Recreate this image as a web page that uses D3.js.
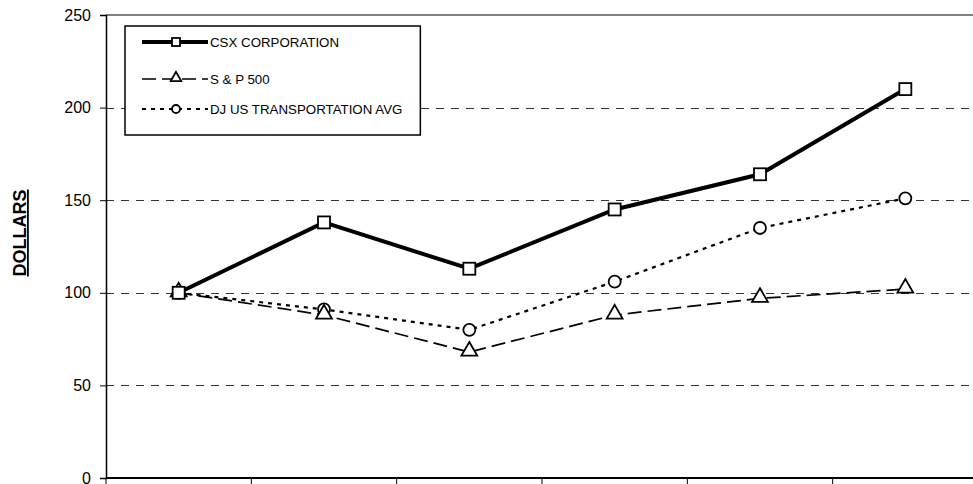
<!DOCTYPE html>
<html>
<head>
<meta charset="utf-8">
<script src="https://cdn.jsdelivr.net/npm/d3@7"></script>
<style>
  body { margin: 0; background: #fff; }
  svg { display: block; font-family: Arial, "Liberation Sans", sans-serif; }
</style>
</head>
<body>
<svg id="chart" width="973" height="484"></svg>
<script>
// data
var YEARS = ["1", "2", "3", "4", "5", "6"];
var CSX = [100, 138, 113, 145, 164, 210];
var SP500 = [100, 88, 68, 88, 97, 102];
var DJTRANS = [100, 91, 80, 106, 135, 151];
var YTICKS = [0, 50, 100, 150, 200, 250];

var SERIES = [
  {name: "CSX CORPORATION", values: CSX, marker: "square", width: 4, dash: null},
  {name: "S & P 500", values: SP500, marker: "triangle", width: 1.7, dash: "14,6"},
  {name: "DJ US TRANSPORTATION AVG", values: DJTRANS, marker: "circle", width: 2.2, dash: "4,5"}
];

var PL = 106, PT = 15, PB = 478, PR = 978;

var SVG = d3.select("svg#chart");

var x = d3.scaleBand().domain(YEARS).range([PL, PR]);
var y = d3.scaleLinear().domain([0, 250]).range([PB, PT]);

// gridlines
SVG.append("g")
   .selectAll("line")
   .data(YTICKS.filter(function(d){ return d > 0 && d < 250; }))
   .enter().append("line")
   .attr("x1", PL).attr("x2", PR)
   .attr("y1", function(d){ return Math.round(y(d)) + 0.5; })
   .attr("y2", function(d){ return Math.round(y(d)) + 0.5; })
   .attr("stroke", "#333")
   .attr("stroke-width", 1)
   .attr("stroke-dasharray", "8,7");

// top border of plot area
SVG.append("line")
   .attr("x1", PL).attr("x2", PR)
   .attr("y1", y(250)).attr("y2", y(250))
   .attr("stroke", "#808080").attr("stroke-width", 2);

// y axis
var yAxis = d3.axisLeft(y).tickValues(YTICKS).tickSize(6).tickPadding(9);
var gy = SVG.append("g").attr("transform", "translate(" + PL + ",0)").call(yAxis);
gy.select(".domain").attr("stroke", "#000").attr("stroke-width", 1.5);
gy.selectAll(".tick line").attr("stroke", "#000");
gy.selectAll("text").attr("font-size", 16).attr("fill", "#000").attr("font-family", "Arial, 'Liberation Sans', sans-serif");

// x axis: tick marks on band edges, no labels
var gx = SVG.append("g").attr("transform", "translate(0," + PB + ")");
gx.append("line").attr("x1", PL).attr("x2", PR).attr("stroke", "#000").attr("stroke-width", 2);
gx.selectAll("line.tk")
  .data(YEARS)
  .enter().append("line")
  .attr("class", "tk")
  .attr("x1", function(d){ return x(d); })
  .attr("x2", function(d){ return x(d); })
  .attr("y1", 0).attr("y2", 7)
  .attr("stroke", "#000").attr("stroke-width", 1);

// y title
SVG.append("text")
   .attr("transform", "translate(26,233) rotate(-90)")
   .attr("text-anchor", "middle")
   .attr("font-size", 18)
   .attr("font-weight", "bold")
   .attr("text-decoration", "underline")
   .text("DOLLARS");

var cx = function(i){ return x(YEARS[i]) + x.bandwidth() / 2; };

function drawMarker(g, type, px, py, sz) {
  if (type === "square") {
    g.append("rect").attr("x", px - sz / 2).attr("y", py - sz / 2).attr("width", sz).attr("height", sz)
     .attr("fill", "#fff").attr("stroke", "#000").attr("stroke-width", 1.8);
  } else if (type === "triangle") {
    g.append("path").attr("d", d3.symbol().type(d3.symbolTriangle).size(sz * sz * 0.75)())
     .attr("transform", "translate(" + px + "," + (py - 1) + ")")
     .attr("fill", "#fff").attr("stroke", "#000").attr("stroke-width", 1.8);
  } else {
    g.append("circle").attr("cx", px).attr("cy", py).attr("r", sz / 2)
     .attr("fill", "#fff").attr("stroke", "#000").attr("stroke-width", 1.8);
  }
}

var line = d3.line()
  .x(function(d, i){ return cx(i); })
  .y(function(d){ return y(d); });

// draw back to front so CSX sits on top
SERIES.slice().reverse().forEach(function(s){
  var g = SVG.append("g");
  g.append("path")
   .attr("d", line(s.values))
   .attr("fill", "none")
   .attr("stroke", "#000")
   .attr("stroke-width", s.width)
   .attr("stroke-dasharray", s.dash);
  s.values.forEach(function(v, i){ drawMarker(g, s.marker, cx(i), y(v), 12); });
});

// legend
var LEG = SVG.append("g");
var LEGBOX = LEG.append("rect")
   .attr("x", 125).attr("y", 26).attr("height", 109)
   .attr("fill", "#fff").attr("stroke", "#000").attr("stroke-width", 1.5);
var rowY = [42, 79, 109];
var maxEnd = 0;
SERIES.forEach(function(s, i){
  var g = LEG.append("g");
  g.append("line")
   .attr("x1", 142).attr("x2", 208)
   .attr("y1", rowY[i]).attr("y2", rowY[i])
   .attr("stroke", "#000").attr("stroke-width", s.width)
   .attr("stroke-dasharray", s.dash);
  drawMarker(g, s.marker, 176, rowY[i], 8);
  var t = g.append("text")
   .attr("x", 210).attr("y", rowY[i] + 5)
   .attr("font-size", 13.3)
   .text(s.name);
  maxEnd = Math.max(maxEnd, 210 + t.node().getComputedTextLength());
});
LEGBOX.attr("width", maxEnd + 18 - 125);
</script>
</body>
</html>
